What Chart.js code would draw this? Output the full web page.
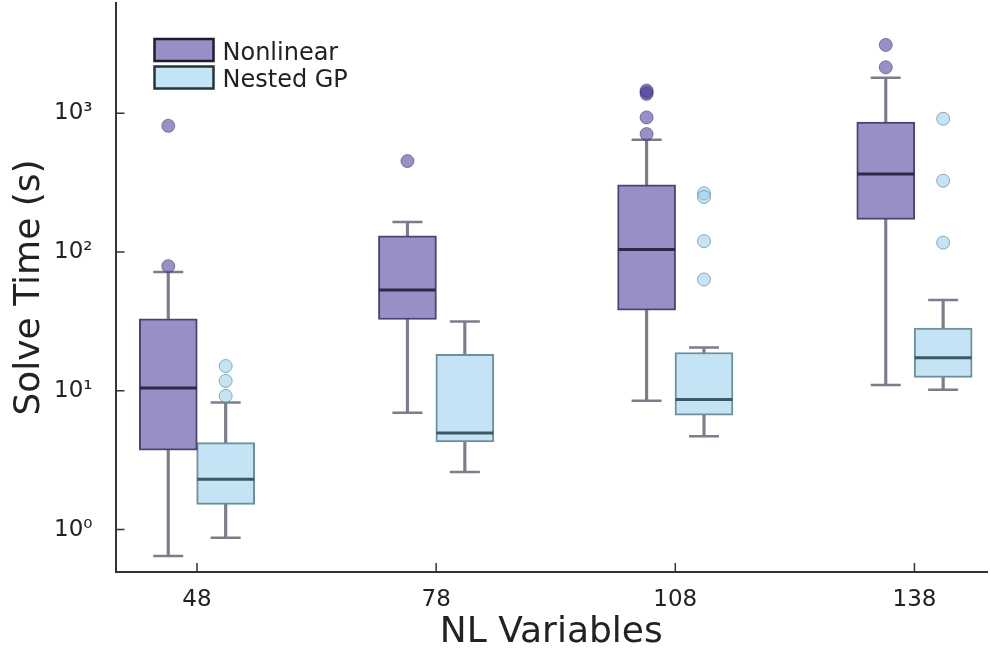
<!DOCTYPE html>
<html>
<head>
<meta charset="utf-8">
<script src="https://cdn.jsdelivr.net/npm/chart.js@4.4.1/dist/chart.umd.min.js"></script>
<style>
  html, body { margin: 0; padding: 0; background: #fff; }
</style>
</head>
<body>
<canvas id="boxChart" width="990" height="654"></canvas>
<script>
// NL variable counts on the x axis
var nlVariables = [48, 78, 108, 138];

// Nonlinear solve times (s): whisker ends, quartiles, median, outliers
var nonlinearLow = [0.645, 6.96, 8.49, 11.0];
var nonlinearQ1 = [3.73, 32.7, 38.1, 172];
var nonlinearMedian = [10.5, 53.4, 104.5, 365];
var nonlinearQ3 = [33.0, 131, 305, 865];
var nonlinearHigh = [71.9, 165, 646, 1807];
var nonlinearOutliers = [[813, 79.2], [453], [1380, 1420, 1460, 935, 709], [3110, 2148]];

// Nested GP solve times (s)
var nestedLow = [0.875, 2.60, 4.71, 10.2];
var nestedQ1 = [1.52, 4.28, 6.67, 12.5];
var nestedMedian = [2.31, 4.97, 8.66, 17.3];
var nestedQ3 = [4.24, 18.3, 18.9, 28.4];
var nestedHigh = [8.24, 31.6, 20.5, 45.1];
var nestedOutliers = [[15.1, 11.8, 9.19], [], [265, 250, 120, 63.5], [914, 327, 117]];

var yTickValues = [1, 10, 100, 1000];
var seriesNames = ["Nonlinear", "Nested GP"];

var whiskerColor = "#7e7c8a";
var superDigits = { "0": "\u2070", "1": "\u00b9", "2": "\u00b2", "3": "\u00b3" };

function boxDatasets(label, offset, low, q1, med, q3, high, outliers, style) {
    var stems = [], boxes = [], medians = [], caps = [], points = [];
    nlVariables.forEach(function (x, i) {
        var cx = x + offset;
        stems.push({ x: cx, y: [low[i], high[i]] });
        boxes.push({ x: cx, y: [q1[i], q3[i]] });
        medians.push({ x: cx, y: med[i] });
        caps.push({ x: cx, y: low[i] });
        caps.push({ x: cx, y: high[i] });
        outliers[i].forEach(function (v) {
            points.push({ x: cx, y: v });
        });
    });
    return [{
        type: "bar",
        label: label + " whisker",
        data: stems,
        backgroundColor: whiskerColor,
        barThickness: 2.5,
        grouped: false,
        order: 6
    }, {
        type: "bar",
        label: label,
        data: boxes,
        backgroundColor: style.fill,
        borderColor: style.border,
        borderWidth: 2,
        borderSkipped: false,
        barThickness: 58,
        grouped: false,
        order: 5
    }, {
        type: "scatter",
        label: label + " median",
        data: medians,
        pointStyle: "line",
        pointRadius: 28.5,
        borderColor: style.median,
        borderWidth: 3,
        order: 3
    }, {
        type: "scatter",
        label: label + " caps",
        data: caps,
        pointStyle: "line",
        pointRadius: 15,
        borderColor: whiskerColor,
        borderWidth: 2.5,
        order: 4
    }, {
        type: "scatter",
        label: label + " outliers",
        data: points,
        pointStyle: "circle",
        pointRadius: 6.5,
        backgroundColor: style.dot,
        borderColor: style.dotBorder,
        borderWidth: 1,
        order: 1
    }];
}

var nonlinearStyle = {
    fill: "#9a8fc5", border: "#4a4472", median: "#2c2848",
    dot: "rgba(88,70,158,0.6)", dotBorder: "rgba(60,50,110,0.55)", legendBorder: "#1e1b33"
};
var nestedStyle = {
    fill: "#c4e4f5", border: "#6f8f9b", median: "#3e5966",
    dot: "rgba(157,210,238,0.6)", dotBorder: "rgba(80,120,138,0.6)", legendBorder: "#23343c"
};

var datasets = boxDatasets(seriesNames[0], -3.6, nonlinearLow, nonlinearQ1, nonlinearMedian,
    nonlinearQ3, nonlinearHigh, nonlinearOutliers, nonlinearStyle)
    .concat(boxDatasets(seriesNames[1], 3.6, nestedLow, nestedQ1, nestedMedian,
        nestedQ3, nestedHigh, nestedOutliers, nestedStyle));

function noPadding(scale) {
    scale.paddingTop = 0;
    scale.paddingBottom = 0;
    scale.paddingLeft = 0;
    scale.paddingRight = 0;
}

// ticks pointing into the plot, plus the legend inside the top-left corner
var plotExtras = {
    id: "plotExtras",
    afterDraw: function (chart) {
        var ctx = chart.ctx;
        var area = chart.chartArea;
        var xs = chart.scales.x, ys = chart.scales.y;
        ctx.save();
        ctx.strokeStyle = "#333";
        ctx.lineWidth = 1.5;
        ctx.beginPath();
        xs.ticks.forEach(function (t) {
            var px = xs.getPixelForValue(t.value);
            ctx.moveTo(px, area.bottom);
            ctx.lineTo(px, area.bottom - 9);
        });
        ys.ticks.forEach(function (t) {
            var py = ys.getPixelForValue(t.value);
            ctx.moveTo(area.left, py);
            ctx.lineTo(area.left + 9, py);
        });
        ctx.stroke();

        var styles = [nonlinearStyle, nestedStyle];
        ctx.font = '24px "DejaVu Sans"';
        ctx.textBaseline = "alphabetic";
        ctx.textAlign = "left";
        seriesNames.forEach(function (name, i) {
            var bx = area.left + 39, by = area.top + 36 + i * 27.5;
            ctx.fillStyle = styles[i].fill;
            ctx.fillRect(bx, by, 59, 22);
            ctx.strokeStyle = styles[i].legendBorder;
            ctx.lineWidth = 2.5;
            ctx.strokeRect(bx, by, 59, 22);
            ctx.fillStyle = "#222";
            ctx.fillText(name, bx + 68, by + 20.5);
        });
        ctx.restore();
    }
};

new Chart(document.getElementById("boxChart"), {
    type: "bar",
    data: { datasets: datasets },
    options: {
        responsive: false,
        animation: false,
        events: [],
        layout: { autoPadding: false, padding: { top: 3, right: 3, left: 0, bottom: 0 } },
        plugins: {
            legend: { display: false },
            tooltip: { enabled: false }
        },
        scales: {
            x: {
                type: "linear",
                min: 37.78,
                max: 147.1,
                offset: false,
                grid: { display: false },
                border: { display: true, color: "#333", width: 2 },
                afterBuildTicks: function (scale) {
                    scale.ticks = nlVariables.map(function (v) { return { value: v }; });
                },
                afterFit: function (scale) {
                    scale.height = 82;
                    noPadding(scale);
                },
                ticks: {
                    padding: 6,
                    color: "#222",
                    font: { family: "DejaVu Sans", size: 23 },
                    callback: function (v) { return String(v); }
                },
                title: {
                    display: true,
                    text: "NL Variables",
                    color: "#222",
                    font: { family: "DejaVu Sans", size: 36 },
                    padding: { top: 0, bottom: 0 }
                }
            },
            y: {
                type: "logarithmic",
                min: 0.495,
                max: 6240,
                grid: { display: false },
                border: { display: true, color: "#333", width: 2 },
                afterBuildTicks: function (scale) {
                    scale.ticks = yTickValues.map(function (v) { return { value: v }; });
                },
                afterFit: function (scale) {
                    scale.width = 115.5;
                    noPadding(scale);
                },
                ticks: {
                    padding: 15,
                    color: "#222",
                    font: { family: "DejaVu Sans", size: 23 },
                    callback: function (v) {
                        var e = String(Math.round(Math.log10(v)));
                        return "10" + superDigits[e];
                    }
                },
                title: {
                    display: true,
                    text: "Solve Time (s)",
                    color: "#222",
                    font: { family: "DejaVu Sans", size: 36 },
                    padding: { top: 8, bottom: 0 }
                }
            }
        }
    },
    plugins: [plotExtras]
});
</script>
</body>
</html>
